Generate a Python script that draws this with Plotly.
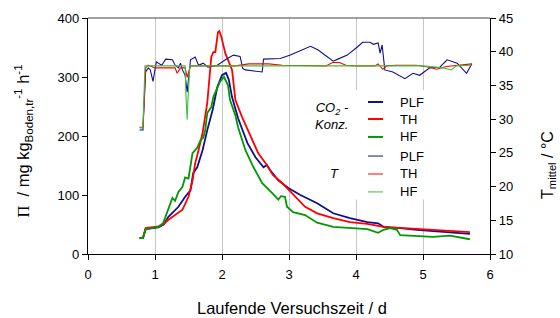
import plotly.graph_objects as go

# ---------------- data ----------------
# CO2 rate  (left axis, mg kg^-1 h^-1) vs. time (d)
plf_rate_x = [0.77, 0.82, 0.86, 0.95, 1.05, 1.13, 1.20, 1.35, 1.45, 1.53, 1.57, 1.63, 1.71, 1.78, 1.86,
              1.93, 2.00, 2.06, 2.10, 2.15, 2.24, 2.38, 2.50, 2.62, 2.67, 2.72, 2.84, 2.99, 3.17, 3.42,
              3.66, 3.91, 4.17, 4.33, 4.41, 4.51, 4.66, 4.91, 5.15, 5.40, 5.70]
plf_rate_y = [27, 27, 42, 44, 45, 50, 63, 80, 97, 108, 137, 147, 176, 210, 244,
              283, 303, 307, 296, 266, 230, 188, 164, 147, 151, 142, 125, 112, 100, 86,
              69, 61, 54, 52, 46, 45, 44, 41, 39, 36, 34]

th_rate_x = [0.77, 0.82, 0.86, 0.95, 1.05, 1.13, 1.20, 1.41, 1.50, 1.56, 1.60, 1.65, 1.71, 1.78, 1.84,
             1.87, 1.90, 1.94, 1.96, 1.99, 2.05, 2.15, 2.20, 2.30, 2.45, 2.54, 2.65, 2.76, 2.90, 3.05,
             3.24, 3.42, 3.66, 3.91, 4.17, 4.41, 4.66, 5.15, 5.70]
th_rate_y = [27, 27, 44, 46, 47, 51, 58, 75, 97, 125, 154, 176, 205, 256, 334,
             342, 342, 376, 378, 368, 340, 312, 261, 232, 193, 171, 154, 134, 120, 103,
             80, 69, 61, 54, 51, 46, 44, 41, 37]

hf_rate_x = [0.77, 0.82, 0.86, 0.95, 1.05, 1.12, 1.20, 1.26, 1.30, 1.35, 1.41, 1.45, 1.50, 1.53, 1.56,
             1.63, 1.68, 1.72, 1.75, 1.78, 1.84, 1.87, 1.97, 2.03, 2.09, 2.12, 2.20, 2.24, 2.35, 2.47,
             2.60, 2.75, 2.84, 2.88, 2.94, 2.97, 3.06, 3.24, 3.42, 3.66, 3.91, 4.17, 4.33, 4.41, 4.51,
             4.61, 4.66, 4.91, 5.15, 5.40, 5.70]
hf_rate_y = [27, 27, 42, 44, 46, 52, 75, 95, 90, 105, 114, 130, 128, 154, 171,
             180, 193, 197, 210, 239, 249, 266, 292, 300, 286, 261, 235, 215, 176, 147,
             120, 103, 92, 98, 97, 80, 71, 66, 53, 46, 44, 42, 36, 41, 44,
             41, 32, 31, 29, 31, 25]

# mean temperature (right axis, degC) vs. time (d)
plf_t_x = [0.77, 0.82, 0.86, 0.90, 0.93, 0.97, 1.02, 1.10, 1.16, 1.26, 1.30, 1.35, 1.38, 1.41, 1.45,
           1.48, 1.53, 1.60, 1.65, 1.72, 1.79, 1.93, 2.05, 2.17, 2.27, 2.31, 2.35, 2.60, 2.62, 2.87,
           3.02, 3.12, 3.32, 3.43, 3.66, 3.73, 3.87, 4.02, 4.10, 4.21, 4.26, 4.33, 4.36, 4.39, 4.43,
           4.55, 4.73, 4.85, 4.95, 5.10, 5.25, 5.36, 5.51, 5.65, 5.73]
plf_t_y = [28.4, 28.4, 37.0, 37.6, 37.3, 35.6, 38.5, 38.0, 38.9, 38.8, 38.0, 37.6, 38.3, 37.3, 36.5,
           34.0, 38.8, 39.2, 38.0, 38.3, 37.7, 38.0, 38.8, 39.5, 39.3, 37.5, 37.3, 37.0, 38.9, 39.0,
           39.5, 39.9, 40.8, 40.3, 38.6, 38.9, 39.5, 40.7, 41.4, 41.4, 41.1, 41.3, 39.8, 41.0, 37.3,
           37.0, 36.0, 36.8, 36.5, 37.6, 37.7, 38.8, 38.3, 36.8, 38.2]

th_t_x = [0.77, 0.82, 0.86, 0.90, 1.00, 1.10, 1.20, 1.30, 1.33, 1.38, 1.45, 1.48, 1.53, 1.70, 2.00,
          2.20, 2.40, 2.70, 2.90, 3.30, 3.55, 3.65, 3.75, 3.85, 4.00, 4.28, 4.33, 4.40, 4.46, 4.60,
          4.90, 5.10, 5.20, 5.35, 5.60, 5.73]
th_t_y = [28.8, 28.8, 37.6, 38.0, 37.6, 37.6, 37.5, 37.6, 36.8, 37.6, 37.6, 36.2, 37.9, 37.9, 37.8,
          37.9, 38.2, 38.2, 38.0, 37.9, 37.9, 38.4, 38.4, 38.0, 37.9, 37.9, 38.2, 37.4, 37.9, 38.0,
          38.0, 37.7, 37.4, 37.8, 38.0, 38.2]

hf_t_x = [0.77, 0.82, 0.85, 1.00, 1.45, 1.46, 1.48, 1.49, 1.50, 1.52, 2.00, 3.00, 4.00, 5.00, 5.30,
          5.42, 5.50, 5.73]
hf_t_y = [28.7, 28.7, 37.9, 37.9, 37.9, 34.0, 29.9, 32.5, 34.0, 37.9, 37.9, 37.9, 37.9, 37.9, 37.6,
          37.3, 37.9, 38.0]

series_names = ["PLF", "TH", "HF"]
x_ticks = [0, 1, 2, 3, 4, 5, 6]
left_ticks = [0, 100, 200, 300, 400]
right_ticks = [10, 15, 20, 25, 30, 35, 40, 45]

# ---------------- styling ----------------
NAVY = "#10108a"
RED = "#ff0000"
GREEN_CO2 = "#009a00"
GREEN_T = "#3cc03c"
FONT = "Liberation Sans, Arial, sans-serif"
W_RATE, W_T = 1.8, 1.1

fig = go.Figure()

rate_series = [(plf_rate_x, plf_rate_y, NAVY), (th_rate_x, th_rate_y, RED), (hf_rate_x, hf_rate_y, GREEN_CO2)]
for name, (xs, ys, col) in zip(series_names, rate_series):
    fig.add_trace(go.Scatter(x=xs, y=ys, mode="lines", name=name, yaxis="y",
                             line=dict(color=col, width=W_RATE), showlegend=False))

t_series = [(plf_t_x, plf_t_y, NAVY), (th_t_x, th_t_y, RED), (hf_t_x, hf_t_y, GREEN_T)]
for name, (xs, ys, col) in zip(series_names, t_series):
    fig.add_trace(go.Scatter(x=xs, y=ys, mode="lines", name=name, yaxis="y2",
                             line=dict(color=col, width=W_T), showlegend=False))

# ---- legend (keys + labels), laid out in paper coordinates ----
legend_rows_y = [0.644, 0.572, 0.496, 0.415, 0.339, 0.263]
legend_entries = [("PLF", NAVY, 2.0), ("TH", RED, 2.0), ("HF", GREEN_CO2, 2.0),
                  ("PLF", NAVY, 1.0), ("TH", RED, 1.0), ("HF", GREEN_T, 1.0)]
key_x0, key_x1, label_x = 0.6965, 0.7338, 0.7711

shapes = [
    # top frame line of the plot area
    dict(type="line", xref="paper", yref="paper", x0=0, x1=1, y0=1, y1=1,
         line=dict(color="#808080", width=1.3)),
    # white legend backdrop (hides grid lines behind the legend)
    dict(type="rect", xref="x", yref="y", x0=3.35, x1=5.88, y0=93, y1=278,
         fillcolor="white", line=dict(width=0), layer="between"),
]
annotations = [
    dict(text="<span style='font-family:Liberation Serif, Times New Roman, serif'>Π</span>"
              "  / mg kg<sub>Boden,tr</sub><sup>-1</sup> h<sup>-1</sup>", textangle=-90,
         xref="paper", yref="paper", x=-0.162, y=0.48, showarrow=False,
         font=dict(size=16.5, family=FONT), xanchor="center", yanchor="middle"),
    dict(text="T<sub>mittel</sub> / °C", textangle=-90,
         xref="paper", yref="paper", x=1.144, y=0.377, showarrow=False,
         font=dict(size=16, family=FONT), xanchor="center", yanchor="middle"),
    dict(text="Laufende Versuchszeit / d",
         xref="paper", yref="paper", x=0.507, y=-0.229, showarrow=False,
         font=dict(size=16.5, family=FONT), xanchor="center", yanchor="middle"),
    dict(text="<i>CO<sub>2</sub> -</i><br><i>Konz.</i>",
         xref="paper", yref="paper", x=0.607, y=0.585, showarrow=False, align="right",
         font=dict(size=13, family=FONT), xanchor="center", yanchor="middle"),
    dict(text="<i>T</i>",
         xref="paper", yref="paper", x=0.614, y=0.343, showarrow=False,
         font=dict(size=13, family=FONT), xanchor="center", yanchor="middle"),
]
for ry, (lab, col, w) in zip(legend_rows_y, legend_entries):
    shapes.append(dict(type="line", xref="paper", yref="paper", x0=key_x0, x1=key_x1, y0=ry, y1=ry,
                       line=dict(color=col, width=w), layer="above"))
    annotations.append(dict(text=lab, xref="paper", yref="paper", x=label_x, y=ry, showarrow=False,
                            xanchor="left", yanchor="middle", font=dict(size=13, family=FONT)))

fig.update_layout(
    width=560, height=318,
    margin=dict(l=88, r=70, t=18, b=64),
    paper_bgcolor="white", plot_bgcolor="white",
    font=dict(family=FONT, size=13, color="black"),
    showlegend=False,
    xaxis=dict(range=[0, 6], tickvals=x_ticks, showgrid=True, gridcolor="#c8c8c8", gridwidth=1,
               zeroline=False, showline=True, linecolor="black", linewidth=1.3,
               ticks="outside", ticklen=5, tickcolor="black", tickfont=dict(size=13),
               ticklabelstandoff=3),
    yaxis=dict(range=[0, 400], tickvals=left_ticks, showgrid=False, zeroline=False,
               showline=True, linecolor="black", linewidth=1.3,
               ticks="outside", ticklen=5, tickcolor="black", tickfont=dict(size=13)),
    yaxis2=dict(range=[10, 45], tickvals=right_ticks, overlaying="y", side="right",
                showgrid=False, zeroline=False, showline=True, linecolor="black", linewidth=1.3,
                ticks="outside", ticklen=5, tickcolor="black", tickfont=dict(size=13)),
    shapes=shapes,
    annotations=annotations,
)

fig.write_html("out.html", config={"displayModeBar": False},
               post_script="document.body.style.margin='0';document.body.style.overflow='hidden';")
